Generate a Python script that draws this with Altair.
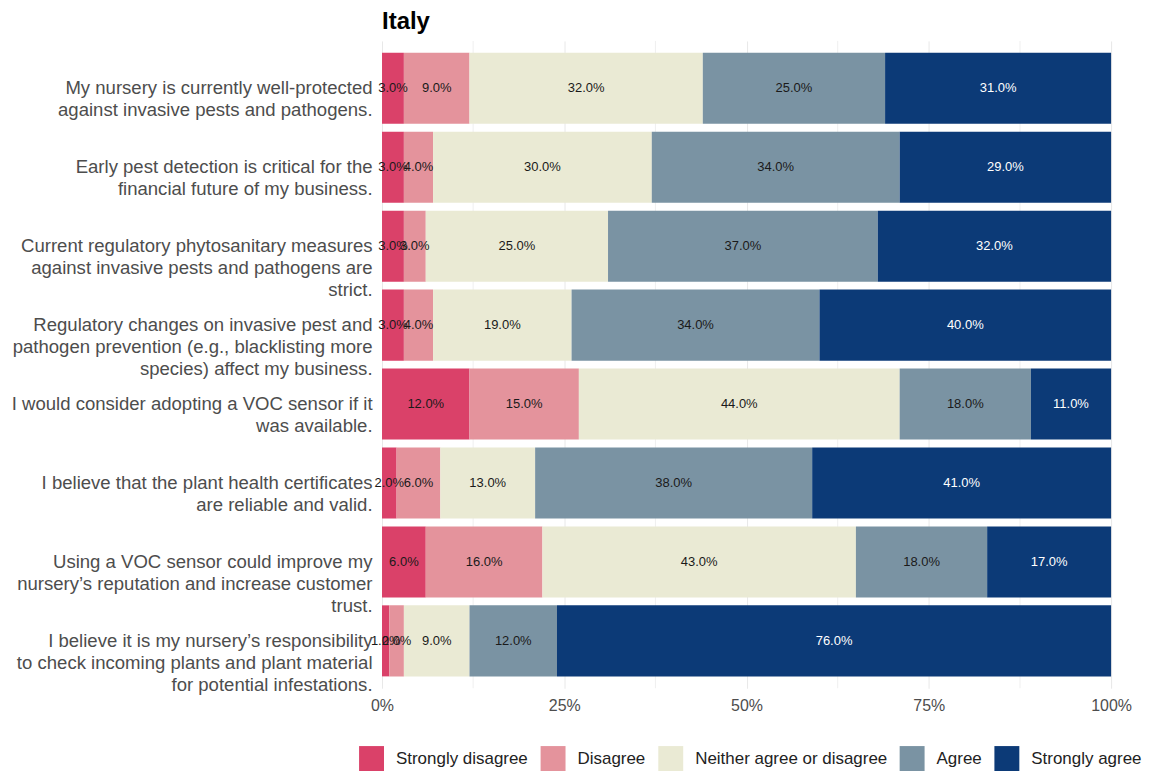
import altair as alt
import pandas as pd

statements = [
    "My nursery is currently well-protected|against invasive pests and pathogens.",
    "Early pest detection is critical for the|financial future of my business.",
    "Current regulatory phytosanitary measures|against invasive pests and pathogens are|strict.",
    "Regulatory changes on invasive pest and|pathogen prevention (e.g., blacklisting more|species) affect my business.",
    "I would consider adopting a VOC sensor if it|was available.",
    "I believe that the plant health certificates|are reliable and valid.",
    "Using a VOC sensor could improve my|nursery\u2019s reputation and increase customer|trust.",
    "I believe it is my nursery\u2019s responsibility|to check incoming plants and plant material|for potential infestations.",
]
categories = ["Strongly disagree", "Disagree", "Neither agree or disagree", "Agree", "Strongly agree"]
colors = ["#DA4169", "#E4939C", "#EAEAD4", "#7A93A3", "#0C3A77"]

strongly_disagree = [3, 3, 3, 3, 12, 2, 6, 1]
disagree = [9, 4, 3, 4, 15, 6, 16, 2]
neither = [32, 30, 25, 19, 44, 13, 43, 9]
agree = [25, 34, 37, 34, 18, 38, 18, 12]
strongly_agree = [31, 29, 32, 40, 11, 41, 17, 76]

minor_grid = [0.125, 0.375, 0.625, 0.875]
major_ticks = [0, 0.25, 0.5, 0.75, 1]

series = [strongly_disagree, disagree, neither, agree, strongly_agree]
rows = []
for ci, (cat, vals) in enumerate(zip(categories, series)):
    for s, v in zip(statements, vals):
        rows.append({"statement": s, "category": cat, "order": ci, "pct": v / 100})
df = pd.DataFrame(rows)

FONT = "Liberation Sans"

base = alt.Chart(df).transform_stack(
    stack="pct",
    groupby=["statement"],
    sort=[alt.SortField("order", order="ascending")],
    as_=["x0", "x1"],
).transform_calculate(mid="(datum.x0 + datum.x1) / 2")

y_enc = alt.Y(
    "statement:N",
    sort=statements,
    title=None,
    scale=alt.Scale(paddingInner=0.1, paddingOuter=0.15),
    axis=alt.Axis(
        labelExpr="split(datum.value, '|')",
        labelFontSize=18.6,
        labelColor="#4d4d4d",
        labelFont=FONT,
        labelLineHeight=22,
        labelPadding=10,
        labelLimit=500,
        ticks=False,
        domain=False,
        grid=False,
        minExtent=368,
        maxExtent=368,
    ),
)

x_scale = alt.Scale(domain=[0, 1], nice=False, zero=False)

grid = alt.Chart(pd.DataFrame({"g": minor_grid})).mark_rule(
    color="#efefef", strokeWidth=1
).encode(x=alt.X("g:Q", scale=x_scale))

bars = base.mark_bar().encode(
    x=alt.X(
        "x0:Q",
        scale=x_scale,
        title=None,
        axis=alt.Axis(
            values=major_ticks,
            format=".0%",
            labelFontSize=16,
            labelColor="#4d4d4d",
            labelFont=FONT,
            labelPadding=9,
            labelFlush=False,
            ticks=False,
            domain=False,
            grid=True,
            gridColor="#e8e8e8",
        ),
    ),
    x2="x1:Q",
    y=y_enc,
    color=alt.Color(
        "category:N",
        scale=alt.Scale(domain=categories, range=colors),
        title=None,
        legend=alt.Legend(
            orient="none",
            direction="horizontal",
            legendX=-23,
            legendY=707,
            symbolType="square",
            symbolSize=625,
            symbolStrokeWidth=0,
            symbolOpacity=1,
            labelFontSize=17,
            labelFont=FONT,
            labelColor="#222222",
            labelOffset=12,
            columnPadding=12,
            labelLimit=400,
        ),
    ),
)

texts = base.mark_text(fontSize=13, font=FONT).encode(
    x=alt.X("mid:Q", scale=x_scale),
    y=alt.Y("statement:N", sort=statements),
    text=alt.Text("pct:Q", format=".1%"),
    color=alt.condition(
        alt.datum.category == "Strongly agree", alt.value("white"), alt.value("#1a1a1a")
    ),
)

chart = (
    alt.layer(grid, bars, texts)
    .properties(
        width=731,
        height=649,
        padding={"left": 3, "top": 1, "right": 5, "bottom": 5},
        title=alt.TitleParams(
            "Italy",
            anchor="start",
            frame="group",
            fontSize=24,
            fontWeight="bold",
            font=FONT,
            color="#000000",
            offset=3,
            dy=-3,
        ),
    )
    .configure_view(stroke=None)
)

chart.save("out.html", embed_options={"renderer": "svg", "actions": False})
